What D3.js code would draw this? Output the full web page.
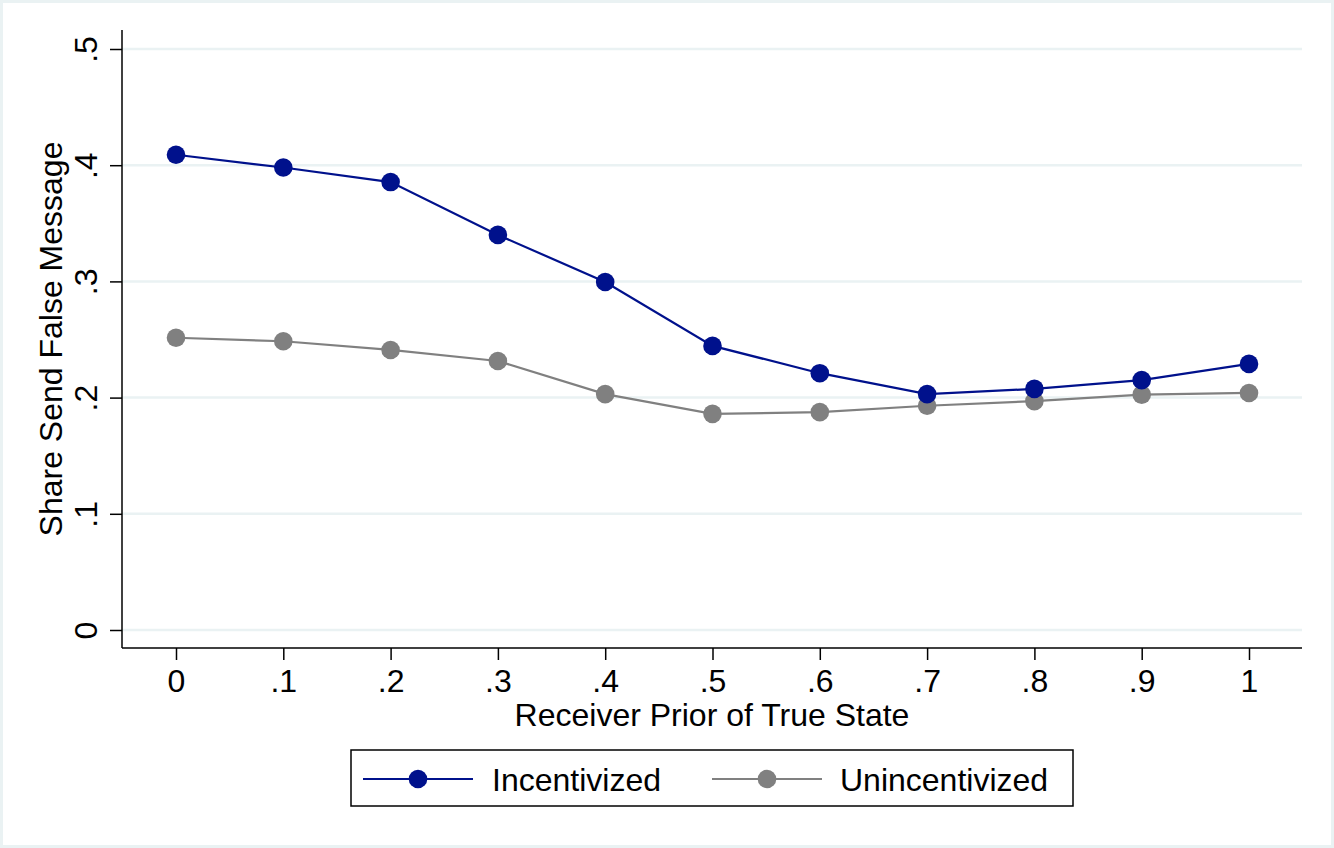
<!DOCTYPE html>
<html>
<head>
<meta charset="utf-8">
<script src="https://cdn.jsdelivr.net/npm/d3@7"></script>
<style>
  html, body { margin: 0; padding: 0; background: #eaf2f3; }
  svg { display: block; }
  text { font-family: "Liberation Sans", Arial, Helvetica, sans-serif; fill: #000; }
</style>
</head>
<body>
<svg id="chart" width="1334" height="848"></svg>
<script>
const priors = [0, 0.1, 0.2, 0.3, 0.4, 0.5, 0.6, 0.7, 0.8, 0.9, 1];
const incentivized = [0.409, 0.398, 0.3855, 0.340, 0.2995, 0.2445, 0.221, 0.203, 0.2075, 0.215, 0.229];
const unincentivized = [0.2515, 0.2485, 0.241, 0.2315, 0.203, 0.186, 0.1875, 0.193, 0.197, 0.2025, 0.204];
const xTicks = [0, 0.1, 0.2, 0.3, 0.4, 0.5, 0.6, 0.7, 0.8, 0.9, 1];
const xTickLabels = ["0", ".1", ".2", ".3", ".4", ".5", ".6", ".7", ".8", ".9", "1"];
const yTicks = [0, 0.1, 0.2, 0.3, 0.4, 0.5];
const yTickLabels = ["0", ".1", ".2", ".3", ".4", ".5"];
const seriesNames = ["Incentivized", "Unincentivized"];
const seriesColors = ["#00118c", "#808080"];

(function () {
const FS = 32;
const svg = d3.select("#chart");
svg.append("rect").attr("x", 3).attr("y", 3).attr("width", 1328).attr("height", 842).attr("fill", "#ffffff");

const pLeft = 122, pRight = 1302, pTop = 30, pBottom = 648;
const x = d3.scaleLinear().domain([0, 1]).range([176, 1249]);
const y = d3.scaleLinear().domain([0, 0.5]).range([630, 49]);

// gridlines
svg.append("g").selectAll("line").data(yTicks).join("line")
  .attr("x1", pLeft).attr("x2", pRight)
  .attr("y1", d => y(d)).attr("y2", d => y(d))
  .attr("stroke", "#eaf2f3").attr("stroke-width", 2.5);

// axes
const yAxis = d3.axisLeft(y).tickValues(yTicks).tickFormat((d, i) => yTickLabels[i]).tickSize(12).tickSizeOuter(0);
const gy = svg.append("g").attr("transform", `translate(${pLeft},0)`).call(yAxis);
gy.select(".domain").remove();
gy.append("line").attr("x1", 0).attr("x2", 0).attr("y1", pTop).attr("y2", pBottom).attr("stroke", "#000").attr("stroke-width", 1.5);
gy.selectAll(".tick line").attr("stroke", "#000").attr("stroke-width", 1.5);
gy.selectAll(".tick text")
  .attr("x", null).attr("dy", null)
  .attr("transform", "translate(-25,0) rotate(-90)")
  .attr("text-anchor", "middle")
  .attr("font-size", FS)
  .attr("font-family", "Liberation Sans, Arial, sans-serif")
  .attr("fill", "#000");

const xAxis = d3.axisBottom(x).tickValues(xTicks).tickFormat((d, i) => xTickLabels[i]).tickSize(12).tickSizeOuter(0);
const gx = svg.append("g").attr("transform", `translate(0,${pBottom})`).call(xAxis);
gx.select(".domain").remove();
gx.append("line").attr("x1", pLeft).attr("x2", pRight).attr("y1", 0).attr("y2", 0).attr("stroke", "#000").attr("stroke-width", 1.5);
gx.selectAll(".tick line").attr("stroke", "#000").attr("stroke-width", 1.5);
gx.selectAll(".tick text")
  .attr("y", 44).attr("dy", null)
  .attr("font-size", FS)
  .attr("font-family", "Liberation Sans, Arial, sans-serif")
  .attr("fill", "#000");

// axis titles
svg.append("text").attr("x", 712).attr("y", 726).attr("text-anchor", "middle")
  .attr("font-size", FS).text("Receiver Prior of True State");
svg.append("text").attr("transform", "translate(62,339) rotate(-90)").attr("text-anchor", "middle")
  .attr("font-size", FS).text("Share Send False Message");

// series
const allSeries = [incentivized, unincentivized];
const line = d3.line().x((d, i) => x(priors[i])).y(d => y(d));
[1, 0].forEach(s => {
  const g = svg.append("g");
  g.append("path").datum(allSeries[s]).attr("d", line)
    .attr("fill", "none").attr("stroke", seriesColors[s]).attr("stroke-width", 2.2);
  g.selectAll("circle").data(allSeries[s]).join("circle")
    .attr("cx", (d, i) => x(priors[i])).attr("cy", d => y(d)).attr("r", 9.3)
    .attr("fill", seriesColors[s]);
});

// legend
const lg = svg.append("g");
lg.append("rect").attr("x", 351).attr("y", 750).attr("width", 722).attr("height", 56)
  .attr("fill", "#fff").attr("stroke", "#000").attr("stroke-width", 1.5);
const legendItems = [
  { x1: 363, x2: 473, mx: 418, tx: 492 },
  { x1: 712, x2: 822, mx: 767, tx: 840 }
];
legendItems.forEach((it, i) => {
  lg.append("line").attr("x1", it.x1).attr("x2", it.x2).attr("y1", 779).attr("y2", 779)
    .attr("stroke", seriesColors[i]).attr("stroke-width", 2.2);
  lg.append("circle").attr("cx", it.mx).attr("cy", 779).attr("r", 9.3).attr("fill", seriesColors[i]);
  lg.append("text").attr("x", it.tx).attr("y", 791).attr("font-size", FS).text(seriesNames[i]);
});
})();
</script>
</body>
</html>
